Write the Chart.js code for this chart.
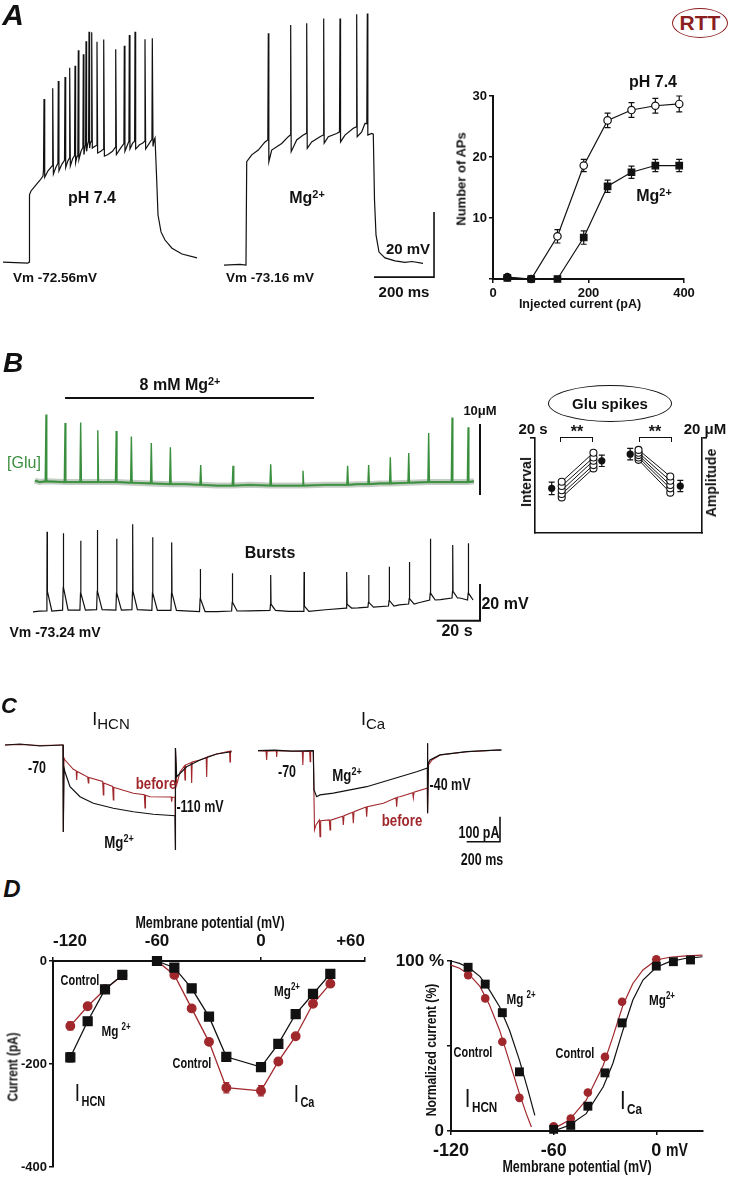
<!DOCTYPE html>
<html><head><meta charset="utf-8"><title>Mg2+ effects figure</title>
<script src="https://cdn.jsdelivr.net/npm/chart.js@4.4.1/dist/chart.umd.min.js"></script>
<style>
html,body{margin:0;padding:0;background:#fff;}
#fig{position:relative;width:731px;height:1178px;overflow:hidden;font-family:'Liberation Sans',Arial,sans-serif;color:#111;}
#fig canvas{position:absolute;}
.lb{position:absolute;white-space:nowrap;font-weight:bold;line-height:1;}
.lb sup{font-size:0.68em;vertical-align:0.5em;line-height:0;}
.oval{position:absolute;border-radius:50%;box-sizing:border-box;display:flex;align-items:center;justify-content:center;font-weight:bold;}
.brk{position:absolute;box-sizing:border-box;border:1.3px solid #111;border-bottom:none;}
</style></head>
<body><div id="fig"></div>
<script>
// ================= DATA =================
// Panel A: current-clamp traces [time ms, Vm mV]
const traceA_pH = [[0,-72.6],[83,-72.9],[86.7,-72.6],[88.3,-51.9],[93.3,-50.7],[106.7,-49.2],[123.3,-47.4],[133.3,-46.1],
[135,-44.3],[136.7,-22.4],[139,-46.5],[150,-44.5],[164,-43],[165.7,-19.1],[168,-45.5],[176,-43.5],
[183,-42.2],[184.3,-16.9],[186.5,-44.5],[196,-42.5],[205,-41.3],[206.7,-15.6],[209,-43.5],[216,-41.5],
[221,-40.7],[222.3,-12.8],[224.5,-43],[232,-40.8],[238.5,-39.8],[240,-12.2],[242,-42],[247,-40],
[249.5,-38.8],[251,-7.4],[253,-41],[260,-38.5],[266.3,-37.3],[267.7,-8.6],[269.7,-39.5],[273,-37.5],
[275.3,-36.4],[276.7,-4.6],[278.7,-38.5],[282,-36.5],[285.3,-35.4],[286.7,-1.7],[288.7,-37.5],[291,-36],
[294.3,-35.4],[295.7,-1.9],[297.7,-37.5],[305,-37],[312,-36.7],[313.3,-4.8],[315.5,-39],[326,-38.5],
[334.3,-37.9],[335.7,-4.1],[338,-40],[350,-39.5],[365,-38.5],[374.3,-37.3],[375.7,-7.1],[378,-39.5],[392,-37.5],
[403,-36.1],[404.3,-6.0],[406.5,-38.5],[415,-36.5],[419.7,-35.4],[421,-2.7],[423.2,-37.8],[432,-36],
[438.7,-35.4],[440,-1.7],[442.2,-37.8],[455,-36.5],[465,-36],[472,-35.4],[473.3,-4.0],[475.5,-37.8],[488,-36],
[496.4,-34.8],[497.7,-3.7],[500,-37],[504,-35],[506.7,-34.4],[511.7,-45.8],[516.7,-58.1],[526.7,-63.3],
[540,-65.8],[563.3,-68.3],[596.7,-70.1],[646.7,-71.3]];
const traceA_Mg = [[0,-73.5],[53.3,-73.3],[73.3,-73.5],[75.7,-41.7],[92.3,-39.6],[114.3,-38.1],[136.7,-35.6],[146,-35],
[147.7,-2.2],[149.5,-41.7],[159,-38.1],[192.3,-36.1],[214.3,-34.0],[220.5,-33.5],
[222.3,0.4],[224,-38.6],[242.3,-35.0],[264.3,-33.5],[274,-33],
[275.7,0.9],[277.5,-37.6],[292.3,-35.6],[320,-34.0],[330.5,-33.5],
[332.3,2.4],[334,-36.0],[347.7,-34.0],[375.7,-33.0],[385,-32.5],
[386.7,2.4],[388.5,-35.6],[403.3,-33.5],[431,-31.4],[440.5,-31],
[442.3,3.7],[444,-34.0],[459,-32.5],[470,-29.9],[476,-30],
[477.7,3.9],[479.5,-33.5],[492.3,-33.0],[497.7,-33.2],[501.7,-53.5],[506.7,-64.2],[516.7,-69.5],
[536.7,-71.3],[570,-72.2],[603.3,-72.7],[626.7,-72.4],[663.3,-73.0]];
const scaleBarA_ms = [1236.7, 1436.7];   // 200 ms
const scaleBarA_mV = [-77.2, -57.2];     // 20 mV

// Panel A: number of APs vs injected current
const injCurrent = [30, 80, 135, 190, 240, 290, 340, 390];
const apsPH    = [0.3, 0, 7.0, 18.6, 26.0, 27.7, 28.4, 28.7];
const apsPHErr = [0.3, 0, 1.1, 1.0, 1.2, 1.2, 1.2, 1.3];
const apsMg    = [0.2, 0, 0, 6.8, 15.2, 17.5, 18.6, 18.6];
const apsMgErr = [0, 0, 0, 1.1, 1.0, 1.0, 1.0, 1.0];

// Panel B: glutamate sensor (time s, μM) and bursts (time s, mV)
const gluSpikeT    = [6.0,14.8,22.0,29.9,38.4,45.4,54.6,63.4,77.4,92.3,109.7,124.6,145.2,154.9,164.9,173.4,182.6,193.4,200.8];
const gluSpikePeak = [9.5,8.3,8.4,7.3,7.2,6.4,5.5,4.9,2.4,2.3,2.5,1.6,2.3,2.4,3.5,4.1,6.9,9.1,7.7];
const gluSpikeBase = [0.1,0,0,0,0,-0.1,-0.2,-0.3,-0.4,-0.5,-0.5,-0.5,-0.4,-0.3,-0.2,-0.1,0,0,0];
const gluBaseline  = [[0.9,0.2],[3,0],[70,-0.3],[85,-0.5],[100,-0.4],[118,-0.5],[135,-0.4],[150,-0.3],[160,-0.2],[188,0],[203.5,0.1]];
const burstT        = [6.5,14.0,22.0,29.7,38.6,46.0,55.2,64.0,77.2,92.0,109.7,125.1,144.8,154.9,164.4,173.7,183.4,193.7,200.9];
const burstPeak     = [-29.5,-30.3,-34.4,-28.5,-33.3,-25.4,-32.5,-35.3,-49.8,-52.1,-53.1,-51.4,-51.4,-53.1,-48.6,-46.0,-33.3,-36.7,-35.8];
const burstBase     = [-72.7,-72.2,-72.2,-72.0,-72.2,-72.0,-72.4,-72.4,-73.0,-72.7,-72.4,-72.9,-71.1,-70.6,-70.0,-68.9,-66.7,-65.6,-66.7];
const burstShoulder = [-62,-60,-63,-62,-63,-62,-63,-63,-66,-68,-69,-70,-69,-68,-67,-66,-63,-62,-63];
const burstBaseline = [[0,-73.2],[3,-72.8],[70,-72.6],[85,-73.0],[100,-72.6],[118,-72.9],[135,-72.0],[150,-71.0],[169,-69.4],[178,-68.2],[188,-66.5],[197,-65.6],[203.5,-66.7]];
const mgApplication_s = [14.8, 129.7];
const scaleBarB_s = [186.3, 206.3], scaleBarB_mV = [-77.98, -57.98], scaleBarB_uM = [-1.83, 8.17];

// Panel B inset: Glu spikes interval (s) and amplitude (μM), 5 cells
const insetX = [1.0, 1.6, 3.5, 4.0, 5.7, 6.2, 8.1, 8.7];
const intervalBefore = [10.8, 9.9, 9.0, 8.2, 7.5];
const intervalAfter  = [16.9, 15.9, 15.2, 14.3, 13.6];
const intervalMean = [9.4, 15.2], intervalErr = [1.3, 1.2];
const ampBefore = [17.5, 16.9, 16.4, 15.9, 15.4];
const ampAfter  = [11.9, 11.0, 10.1, 9.4, 8.5];
const ampMean = [16.6, 9.9], ampErr = [1.2, 1.2];

// Panel C: voltage-clamp currents [time ms, pA]
const hcnMg = [[0,0],[90,4],[210,-4],[342,0],[348,0],[349.8,-348],[354,-92],[360,-108],[390,-167],[450,-207],[530,-233],
[650,-253],[770,-267],[890,-277],[1020,-283],[1021.8,-420],[1023.6,-12],[1030,-127],[1090,-87],[1170,-60],[1270,-36],[1360,-27]];
const hcnBefore = [[0,0],[90,2],[210,-2],[342,0],[348,0],[349.8,-348],[354,-52],[360,-60],[410,-97],[427,-103],[430,-140],[433,-106],
[496,-128],[500,-152],[503,-130],[586,-146],[590,-200],[593,-152],[646,-166],[650,-220],[653,-170],[670,-173],[770,-193],
[836,-199],[840,-252],[843,-201],[870,-207],[997,-208],[1000,-227],[1003,-209],[1020,-209],[1021.8,-420],[1023.6,-12],
[1030,-160],[1050,-108],[1076,-84],[1080,-140],[1083,-80],[1117,-70],[1120,-152],[1123,-68],[1170,-60],[1207,-50],[1210,-128],
[1213,-48],[1270,-36],[1347,-25],[1350,-68],[1353,-24],[1360,-24]];
const caMg = [[0,0],[100,2],[200,-2],[331.8,0],[336,-157],[352,-184],[372,-177],[452,-170],[552,-157],[652,-144],[752,-124],
[852,-104],[952,-84],[1012,-70],[1016,-68],[1017,30],[1018,-250],[1022,-50],[1032,-37],[1092,-17],[1252,-4],[1452,3],[1462,2]];
const caBefore = [[0,0],[48,-2],[52,-37],[55,-2],[110,0],[112,-25],[115,0],[266,-3],[269,-57],[272,-3],[310,-2],[313,-44],[316,-2],
[331.8,0],[339,-317],[348,-297],[368,-277],[372,-344],[376,-280],[428,-277],[432,-317],[436,-278],[508,-262],[512,-297],
[516,-260],[568,-246],[572,-290],[576,-244],[648,-225],[652,-264],[656,-224],[752,-210],[828,-188],[832,-224],[836,-186],
[852,-184],[928,-168],[932,-189],[936,-166],[1012,-150],[1016,-148],[1017,30],[1018,-250],[1023,-57],[1044,-37],[1092,-17],[1252,-4],[1452,3]];
const scaleBarC_ms = [1252, 1452], scaleBarC_pA = [-364, -264];

// Panel D left: I-V relations
const vHCN = [-110, -100, -90, -80];
const iHCNctrl = [-126, -88, -55, -28], iHCNctrlErr = [8, 5, 4, 3];
const iHCNmg   = [-187, -117, -55, -27], iHCNmgErr = [9, 5, 4, 3];
const vCa = [-60, -50, -40, -30, -20, 0, 10, 20, 30, 40];
const iCaCtrl = [0, -27, -92, -157, -246, -252, -195, -146, -83, -44], iCaCtrlErr = [0, 3, 4, 5, 10, 10, 6, 5, 4, 3];
const iCaMg   = [0, -13, -53, -108, -186, -206, -161, -103, -64, -25], iCaMgErr = [0, 2, 3, 4, 6, 8, 5, 4, 3, 2];

// Panel D right: normalized activation
const nHCNctrl = [91.7, 78, 52.5, 19.5];
const nHCNmg   = [96.3, 86.4, 69.6, 34.8];
const vCaN = [-60, -50, -40, -30, -20, 0, 10, 20];
const nCaCtrl = [2.8, 7.3, 22.6, 43.6, 76, 101, 103, 103.5];
const nCaMg   = [1, 3.3, 14.6, 34.2, 63.6, 97, 99.6, 100.6];
const fitHCNmgV = [-120, -115, -109, -103, -97.5, -91.6, -85.8, -80, -75, -71];
const fitHCNmg  = [100, 98.6, 95.7, 90.8, 82.9, 73.1, 59.3, 41.7, 24, 9.2];
const fitHCNctrlV = [-120, -115, -109, -103, -97.5, -91.6, -85.8, -80, -76, -73];
const fitHCNctrl  = [97.6, 95.7, 91.7, 84.9, 74.1, 59.3, 40.7, 22, 10.2, 2.4];
const fitCaV    = [-60, -51, -41, -31, -25.4, -19.5, -13.7, -7.8, 0, 7.8, 17.5, 27];
const fitCaMg   = [0, 3.3, 10.2, 26, 39.7, 59.3, 77, 88.8, 96.3, 99.6, 101.6, 102.5];
const fitCaCtrl = [1.4, 6.3, 18.1, 38.7, 55.4, 74, 86.8, 94.7, 100.6, 102.2, 103, 103.4];

// ================= HELPERS =================
const RED = '#a0282c', BLK = '#111', GRN = '#3a8f3e';
function hasFont(name){const c=document.createElement('canvas').getContext('2d');const s='mmmmmmmmmmwwwwwlli 0123456789';c.font='40px monospace';const a=c.measureText(s).width;c.font='40px "'+name+'", monospace';return c.measureText(s).width!==a;}
const NARROW = hasFont('Liberation Sans Narrow');
const NFAM = NARROW ? '"Liberation Sans Narrow"' : '"Liberation Sans"';
Chart.defaults.font.family = '"Liberation Sans", Arial, sans-serif';
Chart.defaults.font.weight = 'bold';
Chart.defaults.color = BLK;
const fig = document.getElementById('fig');
function mkCanvas(l,t,w,h){const c=document.createElement('canvas');c.width=w;c.height=h;c.style.left=l+'px';c.style.top=t+'px';c.style.width=w+'px';c.style.height=h+'px';fig.appendChild(c);return c;}
const pts = a => a.map(p => ({x:p[0], y:p[1]}));
const xy = (xs, ys) => xs.map((x,i) => ({x, y:ys[i]}));
function line(data,color,width,extra){return Object.assign({data,borderColor:color,backgroundColor:color,borderWidth:width,showLine:true,pointRadius:0,tension:0,fill:false,clip:false},extra||{});}
const hid = (min,max,extra) => Object.assign({type:'linear',display:false,min,max},extra||{});
const errPlugin = {id:'errbars', beforeDatasetsDraw(chart){const ctx=chart.ctx;chart.data.datasets.forEach((ds,i)=>{if(!ds.errors)return;const meta=chart.getDatasetMeta(i);const ys=chart.scales[ds.yAxisID||'y'];ctx.save();ctx.strokeStyle=ds.errColor||ds.borderColor;ctx.lineWidth=1.2;meta.data.forEach((p,j)=>{const e=ds.errors[j];if(!e)return;const v=ds.data[j].y;const y1=ys.getPixelForValue(v+e),y2=ys.getPixelForValue(v-e),c=ds.capW||3;ctx.beginPath();ctx.moveTo(p.x,y1);ctx.lineTo(p.x,y2);ctx.moveTo(p.x-c,y1);ctx.lineTo(p.x+c,y1);ctx.moveTo(p.x-c,y2);ctx.lineTo(p.x+c,y2);ctx.stroke();});ctx.restore();});}};
function mkChart(canvas,datasets,scales,padding){return new Chart(canvas,{type:'scatter',data:{datasets},options:{responsive:false,animation:false,devicePixelRatio:1,events:[],layout:{padding:padding||0},plugins:{legend:{display:false},tooltip:{enabled:false}},scales}, plugins:[errPlugin]});}
function fixW(w){return s=>{s.width=w;s.paddingTop=0;s.paddingBottom=0;s.paddingLeft=0;s.paddingRight=0;};}
function fixH(h){return s=>{s.height=h;s.paddingTop=0;s.paddingBottom=0;s.paddingLeft=0;s.paddingRight=0;};}
const setTicks = vals => s => { s.ticks = vals.map(v => ({value:v})); };
function axis(o){return Object.assign({type:'linear',grid:{display:true,drawOnChartArea:false,drawTicks:true,tickLength:4,color:BLK,lineWidth:1.5},border:{display:true,color:BLK,width:2},ticks:{autoSkip:false,maxRotation:0,minRotation:0,padding:2,color:BLK}},o);}
function lab(html,x,y,size,o){o=o||{};const d=document.createElement('div');d.className='lb';d.innerHTML=html;d.style.left=x+'px';d.style.top=y+'px';d.style.fontSize=size+'px';let tr='translate(-50%,-50%)';if(o.rot)tr+=' rotate('+o.rot+'deg)';if(o.narrow){if(NARROW)d.style.fontFamily=NFAM;else tr+=' scaleX(0.78)';}if(o.color)d.style.color=o.color;if(o.normal)d.style.fontWeight='normal';if(o.italic)d.style.fontStyle='italic';d.style.transform=tr;fig.appendChild(d);return d;}
function oval(html,l,t,w,h,size,color){const d=document.createElement('div');d.className='oval';d.innerHTML=html;Object.assign(d.style,{left:l+'px',top:t+'px',width:w+'px',height:h+'px',fontSize:size+'px',color:color,border:'1.6px solid '+color});fig.appendChild(d);}
function brk(l,t,w,h){const d=document.createElement('div');d.className='brk';Object.assign(d.style,{left:l+'px',top:t+'px',width:w+'px',height:h+'px'});fig.appendChild(d);}
function isub(I,sub,x,y,sI,sSub,bold){return lab('<span style="font-size:'+sI+'px;font-weight:normal">'+I+'</span><span style="font-size:'+sSub+'px;position:relative;top:'+(sI*0.2)+'px;margin-left:'+(bold?2:0)+'px;font-weight:'+(bold?'bold':'normal')+'">'+sub+'</span>',x,y,sI,{narrow:bold});}

// ================= PANEL A traces =================
mkChart(mkCanvas(0,0,445,300),[
  line(pts(traceA_pH),BLK,1.2,{xAxisID:'x',yAxisID:'y'}),
  line(pts(traceA_Mg),BLK,1.2,{xAxisID:'x2',yAxisID:'y'}),
  line([{x:scaleBarA_ms[0],y:scaleBarA_mV[0]},{x:scaleBarA_ms[1],y:scaleBarA_mV[0]},{x:scaleBarA_ms[1],y:scaleBarA_mV[1]}],BLK,1.6,{xAxisID:'x',yAxisID:'y'})
],{x:hid(-10,1473.3),x2:hid(-746.7,736.7),y:hid(-84.25,8.06)});

// ================= PANEL A F-I chart =================
mkChart(mkCanvas(440,70,260,240),[
  line(xy(injCurrent,apsPH),BLK,1.2,{pointRadius:3.7,pointStyle:'circle',pointBackgroundColor:injCurrent.map((c,i)=>i<2?BLK:'#fff'),pointBorderColor:BLK,pointBorderWidth:1.2,errors:apsPHErr}),
  line(xy(injCurrent,apsMg),BLK,1.2,{pointRadius:4.6,pointStyle:'rect',pointBackgroundColor:BLK,pointBorderColor:BLK,errors:apsMgErr})
],{
  x:axis({min:0,max:400,afterBuildTicks:setTicks([0,200,400]),afterFit:fixH(31),ticks:{autoSkip:false,maxRotation:0,padding:3,font:{size:13}}}),
  y:axis({min:0,max:30,afterBuildTicks:setTicks([0,10,20,30]),afterFit:fixW(53),ticks:{autoSkip:false,padding:2,font:{size:13},callback:v=>v===0?'':String(v)}})
},{left:0,right:16,top:26,bottom:0});

// ================= PANEL B traces =================
const gluSpikes = [].concat(...gluSpikeT.map((t,i)=>[[t-0.35,gluSpikeBase[i]],[t,gluSpikePeak[i]],[t+0.35,gluSpikeBase[i]]]));
const gluTrace = gluBaseline.concat(gluSpikes).sort((a,b)=>a[0]-b[0]);
const gluBand = gluBaseline.concat(gluSpikeT.map((t,i)=>[t,gluSpikeBase[i]])).sort((a,b)=>a[0]-b[0]);
const burstTrace = burstBaseline.concat(...burstT.map((t,i)=>[[t-0.35,burstBase[i]],[t-0.08,burstShoulder[i]],[t,burstPeak[i]],[t+0.15,burstShoulder[i]],[t+2.2,burstBase[i]]])).sort((a,b)=>a[0]-b[0]);
mkChart(mkCanvas(0,380,540,260),[
  line(pts(gluTrace),GRN,1.4,{yAxisID:'y2'}),
  line(pts(gluBand),'#62a262',2.2,{yAxisID:'y2'}),
  line(pts(gluBand),'#c4cdc4',6,{yAxisID:'y2'}),
  line(pts(burstTrace),BLK,1.2,{yAxisID:'y'}),
  line([{x:mgApplication_s[0],y:11.83},{x:mgApplication_s[1],y:11.83}],BLK,2,{yAxisID:'y2'}),
  line([{x:scaleBarB_s[1],y:scaleBarB_uM[0]},{x:scaleBarB_s[1],y:scaleBarB_uM[1]}],BLK,2,{yAxisID:'y2'}),
  line([{x:scaleBarB_s[0],y:scaleBarB_mV[0]},{x:scaleBarB_s[1],y:scaleBarB_mV[0]},{x:scaleBarB_s[1],y:scaleBarB_mV[1]}],BLK,2,{yAxisID:'y'})
],{x:hid(-15.23,233.98),y:hid(-88.5,53.19),y2:hid(-22.25,14.37)});

// ================= PANEL B inset =================
const insetSets = [];
insetSets.push(line([{x:insetX[0],y:intervalMean[0]},{x:insetX[3],y:intervalMean[1]}],BLK,0,{showLine:false,pointRadius:3.6,pointBackgroundColor:BLK,errors:intervalErr,capW:0}));
insetSets.push(line([{x:insetX[4],y:ampMean[0]},{x:insetX[7],y:ampMean[1]}],BLK,0,{showLine:false,yAxisID:'y2',pointRadius:3.6,pointBackgroundColor:BLK,errors:ampErr,capW:0}));
intervalBefore.forEach((v,i)=>insetSets.push(line([{x:insetX[1],y:v},{x:insetX[2],y:intervalAfter[i]}],BLK,1,{pointRadius:3.5,pointBackgroundColor:'#fff',pointBorderColor:BLK,pointBorderWidth:1.1})));
ampBefore.forEach((v,i)=>insetSets.push(line([{x:insetX[5],y:v},{x:insetX[6],y:ampAfter[i]}],BLK,1,{yAxisID:'y2',pointRadius:3.5,pointBackgroundColor:'#fff',pointBorderColor:BLK,pointBorderWidth:1.1})));
mkChart(mkCanvas(520,430,200,110),insetSets,{
  x:axis({min:0,max:10,grid:{display:false},ticks:{display:false},border:{display:true,color:BLK,width:1.6},afterFit:fixH(7)}),
  y:axis({position:'left',min:0,max:20,afterBuildTicks:setTicks([20]),grid:{display:true,drawOnChartArea:false,tickLength:5,color:BLK,lineWidth:1.6},ticks:{display:false},border:{display:true,color:BLK,width:1.6},afterFit:fixW(15)}),
  y2:axis({position:'right',min:0,max:20,afterBuildTicks:setTicks([20]),grid:{display:true,drawOnChartArea:false,tickLength:5,color:BLK,lineWidth:1.6},ticks:{display:false},border:{display:true,color:BLK,width:1.6},afterFit:fixW(18)})
},{left:0,right:0,top:8,bottom:0});

// ================= PANEL C traces =================
mkChart(mkCanvas(0,730,520,140),[
  line(pts(hcnMg),BLK,1.2,{}),
  line(pts(hcnBefore),RED,1.1,{}),
  line(pts(caMg),BLK,1.2,{xAxisID:'x2',yAxisID:'y2'}),
  line(pts(caBefore),RED,1.1,{xAxisID:'x2',yAxisID:'y2'}),
  line([{x:scaleBarC_ms[0],y:scaleBarC_pA[0]},{x:scaleBarC_ms[1],y:scaleBarC_pA[0]},{x:scaleBarC_ms[1],y:scaleBarC_pA[1]}],BLK,1.6,{xAxisID:'x2',yAxisID:'y2'})
],{x:hid(-30,3090),y:hid(-500,60),x2:hid(-1548,1572),y2:hid(-477.2,82.8)});

// ================= PANEL D left (I-V) =================
mkChart(mkCanvas(0,920,380,258),[
  line(xy(vHCN,iHCNmg),BLK,1.3,{pointRadius:6.3,pointStyle:'rect',pointBackgroundColor:BLK,errors:iHCNmgErr}),
  line(xy(vCa,iCaMg),BLK,1.3,{pointRadius:6.3,pointStyle:'rect',pointBackgroundColor:BLK,errors:iCaMgErr}),
  line(xy(vHCN,iHCNctrl),RED,1.3,{pointRadius:4.3,pointStyle:'circle',pointBackgroundColor:RED,errors:iHCNctrlErr}),
  line(xy(vCa,iCaCtrl),RED,1.3,{pointRadius:4.3,pointStyle:'circle',pointBackgroundColor:RED,errors:iCaCtrlErr})
],{
  x:axis({position:'top',min:-120,max:60,afterBuildTicks:setTicks([-120,-60,0,60]),afterFit:fixH(41),ticks:{autoSkip:false,maxRotation:0,align:'inner',padding:5,font:{size:17,family:NFAM},callback:v=>v>0?'+'+v:String(v)}}),
  y:axis({min:-400,max:0,afterBuildTicks:setTicks([-400,-200,0]),afterFit:fixW(53),ticks:{autoSkip:false,padding:2,font:{size:13,family:NFAM},callback:v=>String(v)}})
},{left:0,right:15,top:0,bottom:11});

// ================= PANEL D right (normalized) =================
mkChart(mkCanvas(380,940,351,238),[
  line(xy(vHCN,nHCNmg),BLK,0,{showLine:false,pointRadius:6.3,pointStyle:'rect',pointBackgroundColor:BLK}),
  line(xy(vCaN,nCaMg),BLK,0,{showLine:false,pointRadius:6.3,pointStyle:'rect',pointBackgroundColor:BLK}),
  line(xy(vHCN,nHCNctrl),RED,0,{showLine:false,pointRadius:4.3,pointStyle:'circle',pointBackgroundColor:RED}),
  line(xy(vCaN,nCaCtrl),RED,0,{showLine:false,pointRadius:4.3,pointStyle:'circle',pointBackgroundColor:RED}),
  line(xy(fitHCNmgV,fitHCNmg),BLK,1.2,{}),
  line(xy(fitCaV,fitCaMg),BLK,1.2,{}),
  line(xy(fitHCNctrlV,fitHCNctrl),RED,1.2,{}),
  line(xy(fitCaV,fitCaCtrl),RED,1.2,{})
],{
  x:axis({min:-120,max:27.3,afterBuildTicks:setTicks([-120,-60,0]),afterFit:fixH(47),ticks:{autoSkip:false,maxRotation:0,padding:5,font:{size:18,family:NFAM},callback:v=>String(v)}}),
  y:axis({min:0,max:100,afterBuildTicks:setTicks([0,50,100]),afterFit:fixW(71),ticks:{autoSkip:false,padding:3,font:{size:17,family:NFAM},callback:v=>v===100?'100 %':(v===0?'0':'')}})
},{left:0,right:28,top:21,bottom:0});

// ================= TEXT =================
// Panel A
lab('A',13,15,30,{italic:true});
oval('RTT',672,8,56,30,21,'#8b1f1f');
lab('pH 7.4',92,198,16);
lab('Mg<sup>2+</sup>',307,198,16);
lab('Vm -72.56mV',55,278,13.5);
lab('Vm -73.16 mV',270,278,13.5);
lab('20 mV',408,248,15);
lab('200 ms',404,291,15);
lab('pH 7.4',653,82,16);
lab('Mg<sup>2+</sup>',654,196,16);
lab('Number of APs',461,179,13,{rot:-90});
lab('Injected current (pA)',580,304,12.5);
// Panel B
lab('B',13,363,28,{italic:true});
lab('8 mM Mg<sup>2+</sup>',180,385,16);
lab('[Glu]',24,463,16,{normal:true,color:GRN});
lab('10μM',480,410,13);
lab('Bursts',270,553,16);
lab('20 mV',505,604,16);
lab('20 s',457,631,16);
lab('Vm -73.24 mV',55,632,14);
oval('Glu spikes',548,385,124,37,15,BLK);
lab('20 s',533,428,15);
lab('20 μM',705,428,15);
brk(560,437,33,5); brk(639,437,33,5);
lab('**',577,432,16); lab('**',655,432,16);
lab('Interval',526,482,14,{rot:-90});
lab('Amplitude',711,483,14,{rot:-90});
// Panel C
lab('C',9,706,22,{italic:true});
isub('I','HCN',111,719,18,15,false);
isub('I','Ca',373,719,18,15,false);
lab('-70',37,768,16,{narrow:true});
lab('before',156,783,17,{narrow:true,color:RED});
lab('-110 mV',200,807,16,{narrow:true});
lab('Mg<sup>2+</sup>',119,842,17,{narrow:true});
lab('-70',287,772,16,{narrow:true});
lab('Mg<sup>2+</sup>',347,775,17,{narrow:true});
lab('-40 mV',450,785,16,{narrow:true});
lab('before',402,820,17,{narrow:true,color:RED});
lab('100 pA',479,833,16,{narrow:true});
lab('200 ms',482,860,16,{narrow:true});
// Panel D left
lab('D',12,889,24,{italic:true});
lab('Membrane potential (mV)',210,923,16,{narrow:true});
lab('Current (pA)',12,1067,15,{narrow:true,rot:-90});
lab('Control',80,980,14,{narrow:true});
lab('Mg <sup>2+</sup>',116,1030,15,{narrow:true});
lab('Control',192,1063,14,{narrow:true});
lab('Mg<sup>2+</sup>',287,990,15,{narrow:true});
isub('I','HCN',90,1093,24,14,true);
isub('I','Ca',304,1094,24,14,true);
// Panel D right
lab('Normalized current (%)',431,1050,15.5,{narrow:true,rot:-90});
lab('Membrane potential (mV)',577,1167,16,{narrow:true});
lab('mV',677,1150,18,{narrow:true});
lab('Mg <sup>2+</sup>',521,998,15,{narrow:true});
lab('Control',473,1052,14,{narrow:true});
lab('Control',575,1053,14,{narrow:true});
lab('Mg<sup>2+</sup>',662,999,15,{narrow:true});
isub('I','HCN',481,1098,26,15,true);
isub('I','Ca',631,1100,26,15,true);
</script></body></html>
